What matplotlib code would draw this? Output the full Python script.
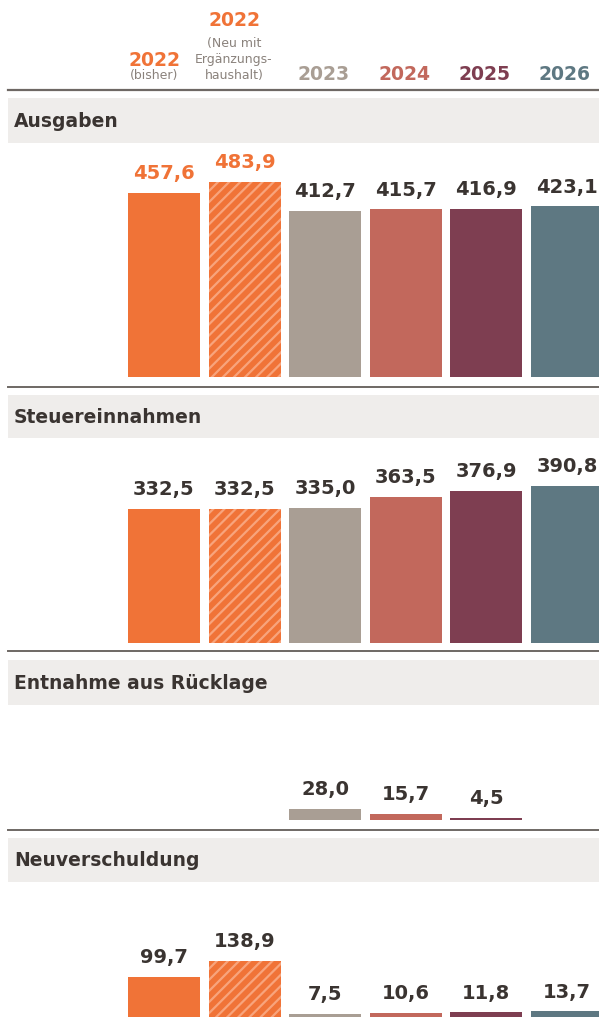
import matplotlib
matplotlib.use('Agg')
import matplotlib.pyplot as plt
from matplotlib.patches import Rectangle
from matplotlib.lines import Line2D

# data
years = ['2022', '2022', '2023', '2024', '2025', '2026']
year_notes = ['(bisher)', '(Neu mit\nErgänzungs-\nhaushalt)', '', '', '', '']
ausgaben = [457.6, 483.9, 412.7, 415.7, 416.9, 423.1]
steuer = [332.5, 332.5, 335.0, 363.5, 376.9, 390.8]
ruecklage = [None, None, 28.0, 15.7, 4.5, None]
neuverschuldung = [99.7, 138.9, 7.5, 10.6, 11.8, 13.7]

colors = ['#F07337', '#F07337', '#A99E94', '#C2685C', '#7E3E51', '#5E7882']
hatch_color = '#F8A47C'
dark = '#3A3431'
gray_txt = '#8A827C'
band_col = '#EFEDEB'
line_col = '#6E6864'

W, H = 599, 1023
fig = plt.figure(figsize=(W / 100, H / 100), dpi=100)
plt.rcParams['hatch.linewidth'] = 1.6


def fx(x):
    return x / W


def fy(y):
    return 1 - y / H


# px per unit, bar spacing
scale = 0.403
step = 80.6
x0 = 164

# header
hdr_x = [154, 234, 324, 405, 485, 565]
for i, yr in enumerate(years):
    if i == 0:
        fig.text(fx(hdr_x[i]), fy(61), yr, color=colors[i], fontsize=13.5,
                 fontweight='bold', ha='center', va='center')
        fig.text(fx(hdr_x[i]), fy(76), year_notes[i], color=gray_txt, fontsize=9,
                 ha='center', va='center')
    elif i == 1:
        fig.text(fx(hdr_x[i]), fy(21), yr, color=colors[i], fontsize=13.5,
                 fontweight='bold', ha='center', va='center')
        fig.text(fx(hdr_x[i]), fy(60), year_notes[i], color=gray_txt, fontsize=9,
                 ha='center', va='center', linespacing=1.3)
    else:
        fig.text(fx(hdr_x[i]), fy(74), yr, color=colors[i], fontsize=13.5,
                 fontweight='bold', ha='center', va='center')

fig.add_artist(Line2D([fx(8), 1], [fy(90), fy(90)], color=line_col, lw=1.6))

sections = [
    ('Ausgaben', ausgaben, 98, 143, 377, 387, [colors[0], colors[1]] + [dark] * 4),
    ('Steuereinnahmen', steuer, 395, 438, 643, 651, [dark] * 6),
    ('Entnahme aus Rücklage', ruecklage, 660, 705, 820, 830, [dark] * 6),
    ('Neuverschuldung', neuverschuldung, 838, 882, 1017, None, [dark] * 6),
]

for title, vals, b_top, b_bot, base, line_y, lab_cols in sections:
    fig.add_artist(Rectangle((fx(8), fy(b_bot)), 1 - fx(8), (b_bot - b_top) / H,
                             transform=fig.transFigure, color=band_col, lw=0))
    fig.text(fx(14), fy((b_top + b_bot) / 2 + 1), title, color=dark, fontsize=13.5,
             fontweight='bold', ha='left', va='center')
    if line_y is not None:
        fig.add_artist(Line2D([fx(8), 1], [fy(line_y), fy(line_y)], color=line_col, lw=1.4))

    h_px = base - b_bot
    ax = fig.add_axes([0, fy(base), 1, h_px / H])
    ax.set_xlim(-x0 / step, (W - x0) / step)
    ax.set_ylim(0, h_px / scale)
    ax.axis('off')
    for i, v in enumerate(vals):
        if v is None:
            continue
        if i == 1:
            ax.bar(i, v, width=72 / step, color=colors[i], edgecolor=hatch_color,
                   hatch='///', lw=0)
        else:
            ax.bar(i, v, width=72 / step, color=colors[i], lw=0)
        ax.annotate(f'{v:.1f}'.replace('.', ','), (i, v), xytext=(0, 7),
                    textcoords='offset points', ha='center', va='bottom',
                    color=lab_cols[i], fontsize=14, fontweight='bold',
                    annotation_clip=False)

plt.savefig('out.png', dpi=100)
